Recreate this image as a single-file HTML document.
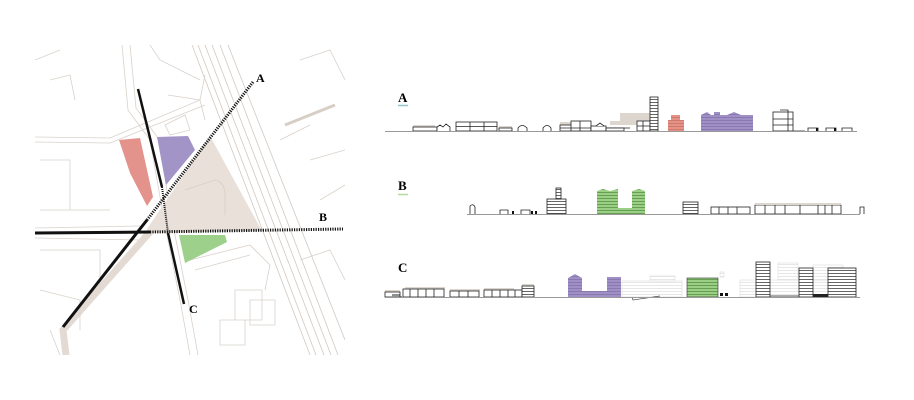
<!DOCTYPE html>
<html><head><meta charset="utf-8"><style>
html,body{margin:0;padding:0;background:#fff;width:914px;height:400px;overflow:hidden}
svg{display:block}
text{font-family:"Liberation Serif",serif;font-weight:bold}
</style></head><body>
<svg width="914" height="400" viewBox="0 0 914 400" xmlns="http://www.w3.org/2000/svg">
<defs>
<pattern id="fl" width="4" height="3" patternUnits="userSpaceOnUse"><rect width="4" height="3" fill="#fff"/><line x1="0" y1="0.5" x2="4" y2="0.5" stroke="#222" stroke-width="0.7"/></pattern>
<pattern id="flp" width="4" height="3" patternUnits="userSpaceOnUse"><rect width="4" height="3" fill="#9f8fc4"/><line x1="0" y1="0.5" x2="4" y2="0.5" stroke="#7a6aa5" stroke-width="0.6"/></pattern>
<pattern id="flg" width="4" height="3" patternUnits="userSpaceOnUse"><rect width="4" height="3" fill="#9ccf86"/><line x1="0" y1="0.5" x2="4" y2="0.5" stroke="#4e8a3a" stroke-width="0.7"/></pattern>
<pattern id="flr" width="4" height="3" patternUnits="userSpaceOnUse"><rect width="4" height="3" fill="#e59186"/><line x1="0" y1="0.5" x2="4" y2="0.5" stroke="#c06a60" stroke-width="0.6"/></pattern>
<pattern id="flx" width="4" height="3" patternUnits="userSpaceOnUse"><rect width="4" height="3" fill="#fff"/><line x1="0" y1="0.5" x2="4" y2="0.5" stroke="#ddd" stroke-width="0.7"/></pattern>
<clipPath id="mc"><rect x="35" y="45" width="310" height="310"/></clipPath>
</defs>

<!-- MAP -->
<g clip-path="url(#mc)" fill="none" stroke="#d9d1ca" stroke-width="0.8">
  <path d="M192 45 L310 355 M198 45 L316 355 M205 45 L324 355 M212 45 L331 355 M220 45 L338 355 M228 45 L345 340" stroke="#d2c8c0"/>
  <path d="M122 45 L128 110 L150 140 L165 225 L180 300 L190 355 M130 45 L136 108 L158 138 L173 225 L188 300 L198 355"/>
  <path d="M35 137 L110 138 L200 100 L205 75 M35 142 L110 143 L205 105"/>
  <path d="M35 228 L140 226 M35 238 L140 240"/>
  <path d="M150 232 L63 330 L66 355" stroke="#e3dbd3" stroke-width="7"/>
  <path d="M150 45 L160 60 L200 80 M168 95 L200 100 L205 120"/>
  <path d="M35 60 L60 50 M50 80 L70 75 L75 100 M40 160 L70 160 L70 210 M40 210 L110 210 M40 250 L100 250 L100 290 M40 290 L80 300 L80 330 M50 330 L60 355"/>
  <path d="M235 290 L262 290 L262 320 L235 320 Z M250 300 L275 300 L275 325 L250 325 Z M220 320 L245 320 L245 345 L220 345Z"/>
  <path d="M190 260 L250 245 L270 265 L265 290 M195 270 L250 255"/>
  <path d="M280 140 L310 125 M300 60 L330 50 L345 80 M310 160 L345 150 M320 200 L345 185 M300 260 L330 250 L345 280"/>
  <path d="M285 125 L335 105" stroke="#d7cec6" stroke-width="3"/>
  <path d="M165 125 L185 115 L190 130 L170 135 Z"/>
</g>
<polygon points="147,229 210,136 262,231 150,233" fill="#e8e0d9"/>
<path d="M185 190 L215 180 Q225 182 225 195 L225 215" fill="none" stroke="#d8cfc6" stroke-width="0.8"/>
<polygon points="119,140 140,138 153,197 147,206 130,173" fill="#e4938c"/>
<polygon points="157,137 188,136 195,150 166,185" fill="#a294c7"/>
<polygon points="179,235 225,235 227,242 185,263" fill="#9dd08a"/>
<g stroke="#111" fill="none">
  <line x1="63" y1="327" x2="147" y2="220" stroke-width="3"/>
  <line x1="147" y1="220" x2="253" y2="82" stroke-width="3" stroke-dasharray="1.2 1.2"/>
  <line x1="35" y1="233" x2="150" y2="232" stroke-width="3"/>
  <line x1="150" y1="232" x2="343" y2="229" stroke-width="3" stroke-dasharray="1.2 1.2"/>
  <line x1="138" y1="89" x2="162" y2="187" stroke-width="2.5"/>
  <line x1="162" y1="187" x2="168" y2="233" stroke-width="2" stroke-dasharray="1 1"/>
  <line x1="168" y1="233" x2="184" y2="304" stroke-width="2.5"/>
</g>
<text x="256" y="82" font-size="12">A</text>
<text x="319" y="221" font-size="12">B</text>
<text x="189" y="313" font-size="12">C</text>

<!-- SECTION A -->
<text x="398" y="102" font-size="13">A</text>
<line x1="398" y1="105.5" x2="408" y2="105.5" stroke="#8fc6cc" stroke-width="1.5"/>
<g fill="#ddd6cf">
  <rect x="413" y="125" width="22" height="2"/><rect x="499" y="126" width="13" height="2"/><rect x="560" y="122" width="20" height="3"/>
  <rect x="620" y="113" width="30" height="8"/><rect x="610" y="121" width="30" height="4"/>
</g>
<g stroke="#222" stroke-width="0.8" fill="#fff">
  <rect x="413" y="127" width="24" height="4"/>
  <path d="M437 131 V127 L440 125 L443 127 L446 124 L450 127 V131"/>
  <rect x="456" y="122" width="41" height="9"/><path d="M456 126.5 H497 M470 122 V131 M484 122 V131" fill="none"/>
  <rect x="499" y="128" width="13" height="3"/>
  <path d="M518 131 V128 Q522 123 527 128 V131"/>
  <path d="M543 131 V128 Q547 123 551 128 V131"/>
  <rect x="560" y="125" width="20" height="6"/><rect x="571" y="121" width="20" height="10"/><path d="M560 128 H630 M580 121 V131" fill="none"/>
  <rect x="591" y="126" width="15" height="5"/><path d="M596 126 L600 123 L604 126"/>
  <rect x="606" y="128" width="18" height="3"/>
  <rect x="637" y="121" width="13" height="10"/><path d="M637 126 H650 M643 121 V131" fill="none"/>
  <rect x="650" y="97" width="8" height="34" fill="url(#fl)"/>
  <rect x="773" y="112" width="20" height="19"/><path d="M773 119 H793 M773 125 H793 M788 112 V131 M780 110 H788 V112" fill="none"/>
  <path d="M793 131 H805 M808 131 V128 H818 V131 M826 131 V128 H836 V131 M842 131 V128 H852 V131" fill="none"/>
</g>
<rect x="816" y="128" width="2" height="3" fill="#111"/><rect x="834" y="128" width="2" height="3" fill="#111"/>
<path d="M668 131 V120 L671 120 V115 L680 115 V120 L684 120 V131 Z" fill="url(#flr)"/>
<path d="M701 131 V115 L707 112 L711 115 L714 115 V112 L720 112 V115 L727 115 L734 112 L741 115 L753 115 V131 Z" fill="url(#flp)"/>
<line x1="385" y1="131.5" x2="857" y2="131.5" stroke="#999" stroke-width="1"/>

<!-- SECTION B -->
<text x="398" y="190" font-size="13">B</text>
<line x1="398" y1="194.5" x2="408" y2="194.5" stroke="#b5d99e" stroke-width="1.5"/>
<g stroke="#222" stroke-width="0.8" fill="#fff">
  <path d="M470 214 V206 Q473 203 475 207 V214"/>
  <path d="M500 214 V210 H508 V214 M521 214 V210 H530 V214" fill="none"/>
  <rect x="547" y="199" width="19" height="15" fill="url(#fl)"/>
  <rect x="556" y="188" width="5" height="11" fill="url(#fl)"/>
  <rect x="683" y="202" width="15" height="12" fill="url(#fl)"/>
  <rect x="711" y="207" width="39" height="7"/><path d="M719 207 V214 M728 207 V214 M737 207 V214" fill="none"/>
  <rect x="755" y="205" width="86" height="9"/><path d="M765 205 V214 M775 205 V214 M785 205 V214 M800 205 V214 M818 205 V214 M825 205 V214 M832 205 V214" fill="none"/>
  <path d="M860 214 V207 H864 V214" fill="none"/>
</g>
<rect x="755" y="203" width="86" height="2" fill="#ddd6cf"/>
<rect x="512" y="211" width="2" height="3" fill="#111"/><rect x="531" y="211" width="2" height="3" fill="#111"/><rect x="535" y="211" width="2" height="3" fill="#111"/>
<path d="M597 214 V191 L603 189 L610 191 L618 189 V208 H632 V191 L639 189 L645 191 V214 Z" fill="url(#flg)"/>
<line x1="467" y1="214.5" x2="860" y2="214.5" stroke="#999" stroke-width="1"/>

<!-- SECTION C -->
<text x="398" y="272" font-size="13">C</text>
<g fill="url(#flx)" stroke="#ddd" stroke-width="0.6">
  <rect x="622" y="281" width="60" height="16"/><rect x="650" y="276" width="25" height="5"/>
  <rect x="740" y="280" width="116" height="17"/><rect x="778" y="263" width="20" height="17"/><rect x="813" y="265" width="30" height="15"/>
  <rect x="720" y="272" width="4" height="5"/>
</g>
<g fill="#ddd6cf"><rect x="385" y="290" width="15" height="2"/><rect x="405" y="287" width="40" height="2"/><rect x="450" y="289" width="30" height="2"/><rect x="484" y="288" width="30" height="2"/><rect x="522" y="284" width="12" height="2"/></g>
<g stroke="#222" stroke-width="0.8" fill="#fff">
  <rect x="385" y="292" width="15" height="5"/>
  <rect x="403" y="289" width="41" height="8"/><path d="M410 289 V297 M418 289 V297 M426 289 V297 M434 289 V297" fill="none"/>
  <rect x="450" y="291" width="29" height="6"/><path d="M459 291 V297 M468 291 V297" fill="none"/>
  <rect x="484" y="290" width="38" height="7"/><path d="M492 290 V297 M500 290 V297 M508 290 V297 M515 290 V297" fill="none"/>
  <rect x="522" y="286" width="12" height="11" fill="url(#fl)"/>
  <rect x="756" y="262" width="14" height="35" fill="url(#fl)"/>
  <rect x="799" y="268" width="14" height="29" fill="url(#fl)"/>
  <rect x="828" y="268" width="28" height="29" fill="url(#fl)"/>
  <path d="M770 296 H799" fill="none"/>
</g>
<rect x="813" y="294" width="15" height="3" fill="#222"/>
<rect x="720" y="293" width="3" height="3" fill="#111"/><rect x="725" y="293" width="3" height="3" fill="#111"/>
<path d="M392 297 H402 M392 295 H400" stroke="#222" stroke-width="1"/>
<path d="M568 297 V278 L575 274 L582 278 V291 H607 V277 H621 V297 Z" fill="url(#flp)"/>
<rect x="687" y="278" width="31" height="19" fill="url(#flg)" stroke="#333" stroke-width="0.6"/>
<path d="M632 297 L633 300 L660 296" fill="none" stroke="#444" stroke-width="0.7"/>
<line x1="385" y1="297.5" x2="860" y2="297.5" stroke="#999" stroke-width="1"/>
</svg>
</body></html>
